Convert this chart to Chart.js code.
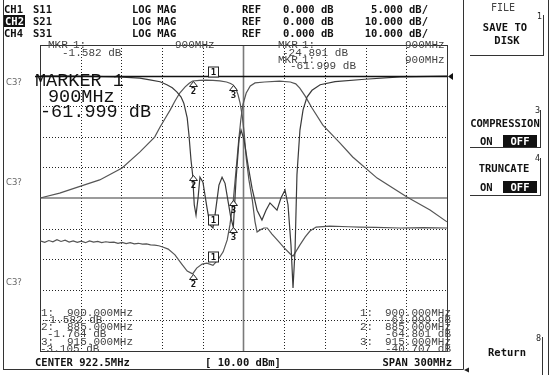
<!DOCTYPE html>
<html><head><meta charset="utf-8">
<script src="https://cdn.jsdelivr.net/npm/chart.js@4.4.1/dist/chart.umd.min.js"></script>
<style>
html,body{margin:0;padding:0;background:#fff;}
#wrap{position:relative;width:550px;height:375px;overflow:hidden;background:#fff;}
#c{position:absolute;left:0;top:0;}
.t{position:absolute;white-space:pre;line-height:12px;height:12px;}
.h{font:bold 10.5px "DejaVu Sans Mono",monospace;color:#111;}
.inv{background:#111;color:#fff;padding:0 1px;}
.s{font:11px "Liberation Mono",monospace;color:#444;}
.g{font:10px "DejaVu Sans Mono",monospace;color:#444;}
.tiny{font:8.5px "DejaVu Sans",sans-serif;color:#666;}
.sup{font:8px "DejaVu Sans",sans-serif;color:#222;}
.big{font:18.5px "Liberation Mono",monospace;color:#111;line-height:18px;height:18px;}
.ctr{text-align:center;}
.rgt{text-align:right;}
.off{background:#111;color:#fff;text-align:center;}
</style></head>
<body><div id="wrap"><canvas id="c" width="550" height="375"></canvas></div>
<script>
// ---- data ----
const centerMHz = 922.5;
const spanMHz = 300;
const refDb = 0;
const divsX = 10;
const divsY = 10;
const scaleS11 = 5;   // dB/div CH1
const scaleS21 = 10;  // dB/div CH2
const scaleS31 = 10;  // dB/div CH4

const freqS11 = [772.5,800,830,846,853.5,861,866,870,873.5,876.5,878.5,881,882.3,883.8,885,886.2,887.5,889,890.4,892.6,895.6,897.8,900,901.5,904.4,906.7,908.9,911.1,913,915,917,919.2,920.7,922.9,925.8,928.8,932.5,936.1,939.1,942,945,947.2,950.1,953.1,955.3,957.5,959,960.5,961.9,964.1,966.4,969.3,973,979,990,1012,1038,1072.5];
const dbS11   = [-0.05,-0.1,-0.2,-0.4,-0.7,-1.0,-1.5,-2.0,-2.7,-3.5,-4.5,-6.9,-9.7,-13.8,-16.2,-21.1,-22.8,-20.0,-16.6,-17.4,-21.6,-24.4,-24.891,-22.8,-17.9,-16.6,-17.6,-20.5,-23.0,-24.8,-17.0,-10.5,-8.9,-10.5,-14.6,-18.4,-22.0,-23.6,-22.0,-20.8,-21.5,-22.0,-20.0,-18.7,-21.1,-27.7,-34.7,-28.5,-16.2,-8.9,-5.6,-3.5,-2.4,-1.5,-1.0,-0.6,-0.2,-0.1];

const freqS21 = [772.5,787,802.5,816.5,833,846,857,861,864.5,868.5,872,875.5,879.5,882.5,885,890,895,900,905,910,913,915,917,918.5,920,921.5,923,924.5,926.5,929,931,932.5,934.5,937.5,940,943.5,948,952.5,957,959,961,964,968,971.5,976,986,1000,1008,1020,1038,1055,1072.5];
const dbS21   = [-40.0,-38.4,-36.1,-34.1,-30.2,-25.0,-20.1,-16.8,-14.2,-11.2,-8.3,-5.7,-3.7,-2.5,-1.764,-1.55,-1.5,-1.582,-1.75,-2.1,-2.6,-3.105,-4.4,-6.3,-9.0,-12.9,-18.8,-26.9,-34.1,-40.7,-47.8,-51.1,-50.5,-49.8,-49.8,-51.8,-54.0,-56.3,-58.3,-59.0,-57.6,-55.4,-52.7,-50.8,-49.5,-49.2,-49.4,-49.5,-49.6,-49.8,-49.7,-49.8];

const freqS31 = [772.5,776,779,782,785,788,791,794,797,800,803,806,809,812,815,818,821,824,827,830,833,836,839,842,845,848,851,854,857,860,863,867,872,877,881,885,888,892,895.5,900,903.5,907.5,910.5,912.5,915,917,919,920.5,922,924.5,927.5,931,938,949,957,961,964,968,973,981,993.5,1003,1021,1043,1060,1072.5];
const dbS31   = [-54.0,-54.5,-53.9,-54.3,-53.6,-54.2,-53.8,-54.4,-54.0,-54.5,-54.1,-54.6,-54.0,-54.4,-54.2,-54.6,-54.3,-54.5,-54.4,-54.8,-54.5,-54.9,-54.6,-55.0,-54.8,-55.1,-55.0,-55.3,-55.4,-55.6,-56.0,-56.7,-58.6,-61.6,-63.9,-64.801,-62.9,-61.6,-61.3,-61.999,-60.3,-57.6,-53.7,-48.8,-40.707,-30.9,-21.0,-14.5,-9.6,-5.7,-3.4,-2.4,-2.1,-1.8,-2.1,-2.7,-4.1,-6.7,-10.6,-16.2,-22.0,-26.6,-33.5,-39.7,-43.9,-47.8];

const markerFreqs = [900, 885, 915];
const markS11 = [-24.891, -16.2, -24.8];
const markS21 = [-1.582, -1.764, -3.105];
const markS31 = [-61.999, -64.801, -40.707];

// ---- derived ----
const xStart = centerMHz - spanMHz/2, xStop = centerMHz + spanMHz/2;
const refDiv = 9; // reference position (divisions from bottom)
const yTop = refDb + (divsY-refDiv)*scaleS21;
const pts = (f,d) => f.map((v,i)=>({x:v,y:d[i]}));

const deco = {
  id:'deco',
  beforeDatasetsDraw(c){
    const {ctx, chartArea:a, scales:{x,y}} = c;
    const L=(x1,y1,x2,y2)=>{ctx.beginPath();ctx.moveTo(x1,y1);ctx.lineTo(x2,y2);ctx.stroke();};
    ctx.save();
    ctx.lineWidth=1; ctx.strokeStyle='#222'; ctx.setLineDash([1,2]);
    for(let k=1;k<divsX;k++){
      if(k===5) continue;
      const px=Math.round(x.getPixelForValue(xStart+k*spanMHz/divsX))+0.5;
      L(px,a.top,px,a.bottom);
    }
    for(let k=1;k<divsY;k++){
      if(k===5) continue;
      const py=Math.round(y.getPixelForValue(yTop-k*scaleS21))+0.5;
      L(a.left,py,a.right,py);
    }
    ctx.setLineDash([]);
    ctx.strokeStyle='#7a7a7a'; ctx.lineWidth=1.6;
    const cx=x.getPixelForValue(centerMHz);
    L(cx,a.top,cx,a.bottom);
    const cy=y.getPixelForValue(yTop-5*scaleS21);
    L(a.left,cy,a.right,cy);
    ctx.strokeStyle='#333'; ctx.lineWidth=1;
    ctx.strokeRect(Math.round(a.left)+0.5,Math.round(a.top)+0.5,Math.round(a.right-a.left),Math.round(a.bottom-a.top));
    ctx.restore();
  },
  afterDatasetsDraw(c){
    const {ctx, chartArea:a, scales} = c;
    const x=scales.x;
    ctx.save();
    // reference line
    const ry=Math.round(scales.y.getPixelForValue(refDb))+0.5;
    ctx.strokeStyle='#111'; ctx.lineWidth=1.5;
    ctx.beginPath(); ctx.moveTo(a.left-5,ry); ctx.lineTo(a.right,ry); ctx.stroke();
    ctx.fillStyle='#111';
    ctx.beginPath(); ctx.moveTo(a.right+1,ry); ctx.lineTo(a.right+6,ry-3.5); ctx.lineTo(a.right+6,ry+3.5); ctx.closePath(); ctx.fill();
    // markers
    const sets=[[markS11,scales.y11],[markS21,scales.y],[markS31,scales.y]];
    ctx.font='bold 9px "DejaVu Sans Mono"'; ctx.textAlign='center'; ctx.textBaseline='middle';
    for(const [vals,ys] of sets){
      vals.forEach((v,i)=>{
        const px=Math.round(x.getPixelForValue(markerFreqs[i]))+0.5;
        const py=Math.round(ys.getPixelForValue(v));
        ctx.strokeStyle='#222'; ctx.lineWidth=1; ctx.fillStyle='#fff';
        if(i===0){
          ctx.fillRect(px-5,py-13,10,10);
          ctx.strokeRect(px-5,py-13,10,10);
          ctx.fillStyle='#111'; ctx.fillText(String(i+1),px,py-7.5);
        } else {
          ctx.beginPath(); ctx.moveTo(px,py+0.5); ctx.lineTo(px+4,py+5.5); ctx.lineTo(px-4,py+5.5); ctx.closePath();
          ctx.fill(); ctx.stroke();
          ctx.fillStyle='#111'; ctx.fillText(String(i+1),px,py+10.5);
        }
      });
    }
    ctx.restore();
  },
  afterDraw(c){
    const ctx=c.ctx;
    const L=(x1,y1,x2,y2)=>{ctx.beginPath();ctx.moveTo(x1,y1);ctx.lineTo(x2,y2);ctx.stroke();};
    ctx.save(); ctx.strokeStyle='#333'; ctx.lineWidth=1;
    L(3.5,0,3.5,369.5); L(3,369.5,463.5,369.5); L(463.5,0,463.5,369.5); L(548.5,0,548.5,375);
    // softkey outlines
    L(543.5,15,543.5,55.5); L(470,55.5,544,55.5);
    L(540.5,110,540.5,147.5); L(470,147.5,541,147.5);
    L(540.5,158,540.5,195.5); L(470,195.5,541,195.5);
    L(542.5,337,542.5,375);
    ctx.fillStyle='#222';
    ctx.beginPath(); ctx.moveTo(464,370); ctx.lineTo(469,367.5); ctx.lineTo(469,372.5); ctx.closePath(); ctx.fill();
    ctx.restore();
  }
};

new Chart(document.getElementById('c'),{
  type:'line',
  data:{datasets:[
    {label:'S11',data:pts(freqS11,dbS11),yAxisID:'y11',borderColor:'#3a3a3a',borderWidth:1.2,pointRadius:0,tension:0},
    {label:'S21',data:pts(freqS21,dbS21),yAxisID:'y',borderColor:'#555',borderWidth:1.2,pointRadius:0,tension:0},
    {label:'S31',data:pts(freqS31,dbS31),yAxisID:'y',borderColor:'#555',borderWidth:1.2,pointRadius:0,tension:0}
  ]},
  options:{
    responsive:false, animation:false, devicePixelRatio:1,
    layout:{padding:{left:40,top:45,right:103,bottom:24}},
    plugins:{legend:{display:false},tooltip:{enabled:false}},
    scales:{
      x:{type:'linear',display:false,min:xStart,max:xStop},
      y:{type:'linear',display:false,min:refDb-refDiv*scaleS21,max:refDb+(divsY-refDiv)*scaleS21},
      y11:{type:'linear',display:false,min:refDb-refDiv*scaleS11,max:refDb+(divsY-refDiv)*scaleS11}
    }
  },
  plugins:[deco]
});

// ---- text ----
const wrap=document.getElementById('wrap');
function T(txt,x,y,cls,opt){
  const d=document.createElement('div');
  d.className='t '+cls; d.textContent=txt;
  const lh = cls.includes('big')?18:12;
  d.style.top=(y-lh/2)+'px';
  d.style.left=x+'px';
  if(opt&&opt.w!==undefined){d.style.width=opt.w+'px';}
  wrap.appendChild(d); return d;
}
const fmtF=f=>f.toFixed(3)+'MHz';
const fmtD=v=>v.toFixed(3)+' dB';
// header
const chans=[['CH1','S11',scaleS11,9,'h'],['CH2','S21',scaleS21,21,'h inv'],['CH4','S31',scaleS31,33,'h']];
chans.forEach(([ch,sp,sc,y,cl])=>{
  T(ch,4,y,cl); T(sp,33,y,'h'); T('LOG MAG',132,y,'h'); T('REF',242,y,'h');
  T(refDb.toFixed(3)+' dB',283,y,'h');
  const s=sc.toFixed(3)+' dB/'; T(s,428-s.length*6.32,y,'h');
});
// marker header readouts
T('MKR',48,45,'s'); T('1:',73,45,'s'); T(markerFreqs[0]+'MHz',175,45,'s'); T(fmtD(markS21[0]),62,53,'s');
T('MKR',278,45,'s'); T('1:',302,45,'s'); T(markerFreqs[0]+'MHz',405,45,'s'); T(fmtD(markS11[0]),282,53,'s');
T('MKR',278,60,'s'); T('1:',302,60,'s'); T(markerFreqs[0]+'MHz',405,60,'s'); T(fmtD(markS31[0]),290,66,'s');
// big marker
T('MARKER 1',35,82,'big'); T(markerFreqs[0]+'MHz',48,98,'big'); T(fmtD(markS31[0]),40,113,'big');
// C3? labels
[83,183,283].forEach(y=>T('C3?',6,y,'tiny'));
// bottom readouts
const lx=[43,47,40], ry=[313,327,342];
markerFreqs.forEach((f,i)=>{
  T((i+1)+':',41,ry[i],'s'); T(fmtF(f),67,ry[i],'s'); T(fmtD(markS21[i]),lx[i],ry[i]+7,'s');
  T((i+1)+':',360,ry[i],'s'); T(fmtF(f),385,ry[i],'s'); T(fmtD(markS31[i]),385,ry[i]+7,'s');
});
// bottom line
T('CENTER '+centerMHz.toFixed(1)+'MHz',35,362,'h');
T('[ 10.00 dBm]',205,362,'h');
T('SPAN '+spanMHz+'MHz',380,362,'h rgt',{w:72});
// softkeys
T('FILE',463,8,'g ctr',{w:80});
T('SAVE TO',465,27,'h ctr',{w:80}); T('DISK',467,40,'h ctr',{w:80});
T('COMPRESSION',465,123,'h ctr',{w:80}); T('ON',480,141,'h');
T('OFF',503,141,'h off',{w:34});
T('TRUNCATE',464,168,'h ctr',{w:80}); T('ON',480,187,'h');
T('OFF',503,187,'h off',{w:34});
T('Return',467,352,'h ctr',{w:80});
T('1',537,18,'sup'); T('3',535,112,'sup'); T('4',535,160,'sup'); T('8',536,340,'sup');
</script></body></html>
